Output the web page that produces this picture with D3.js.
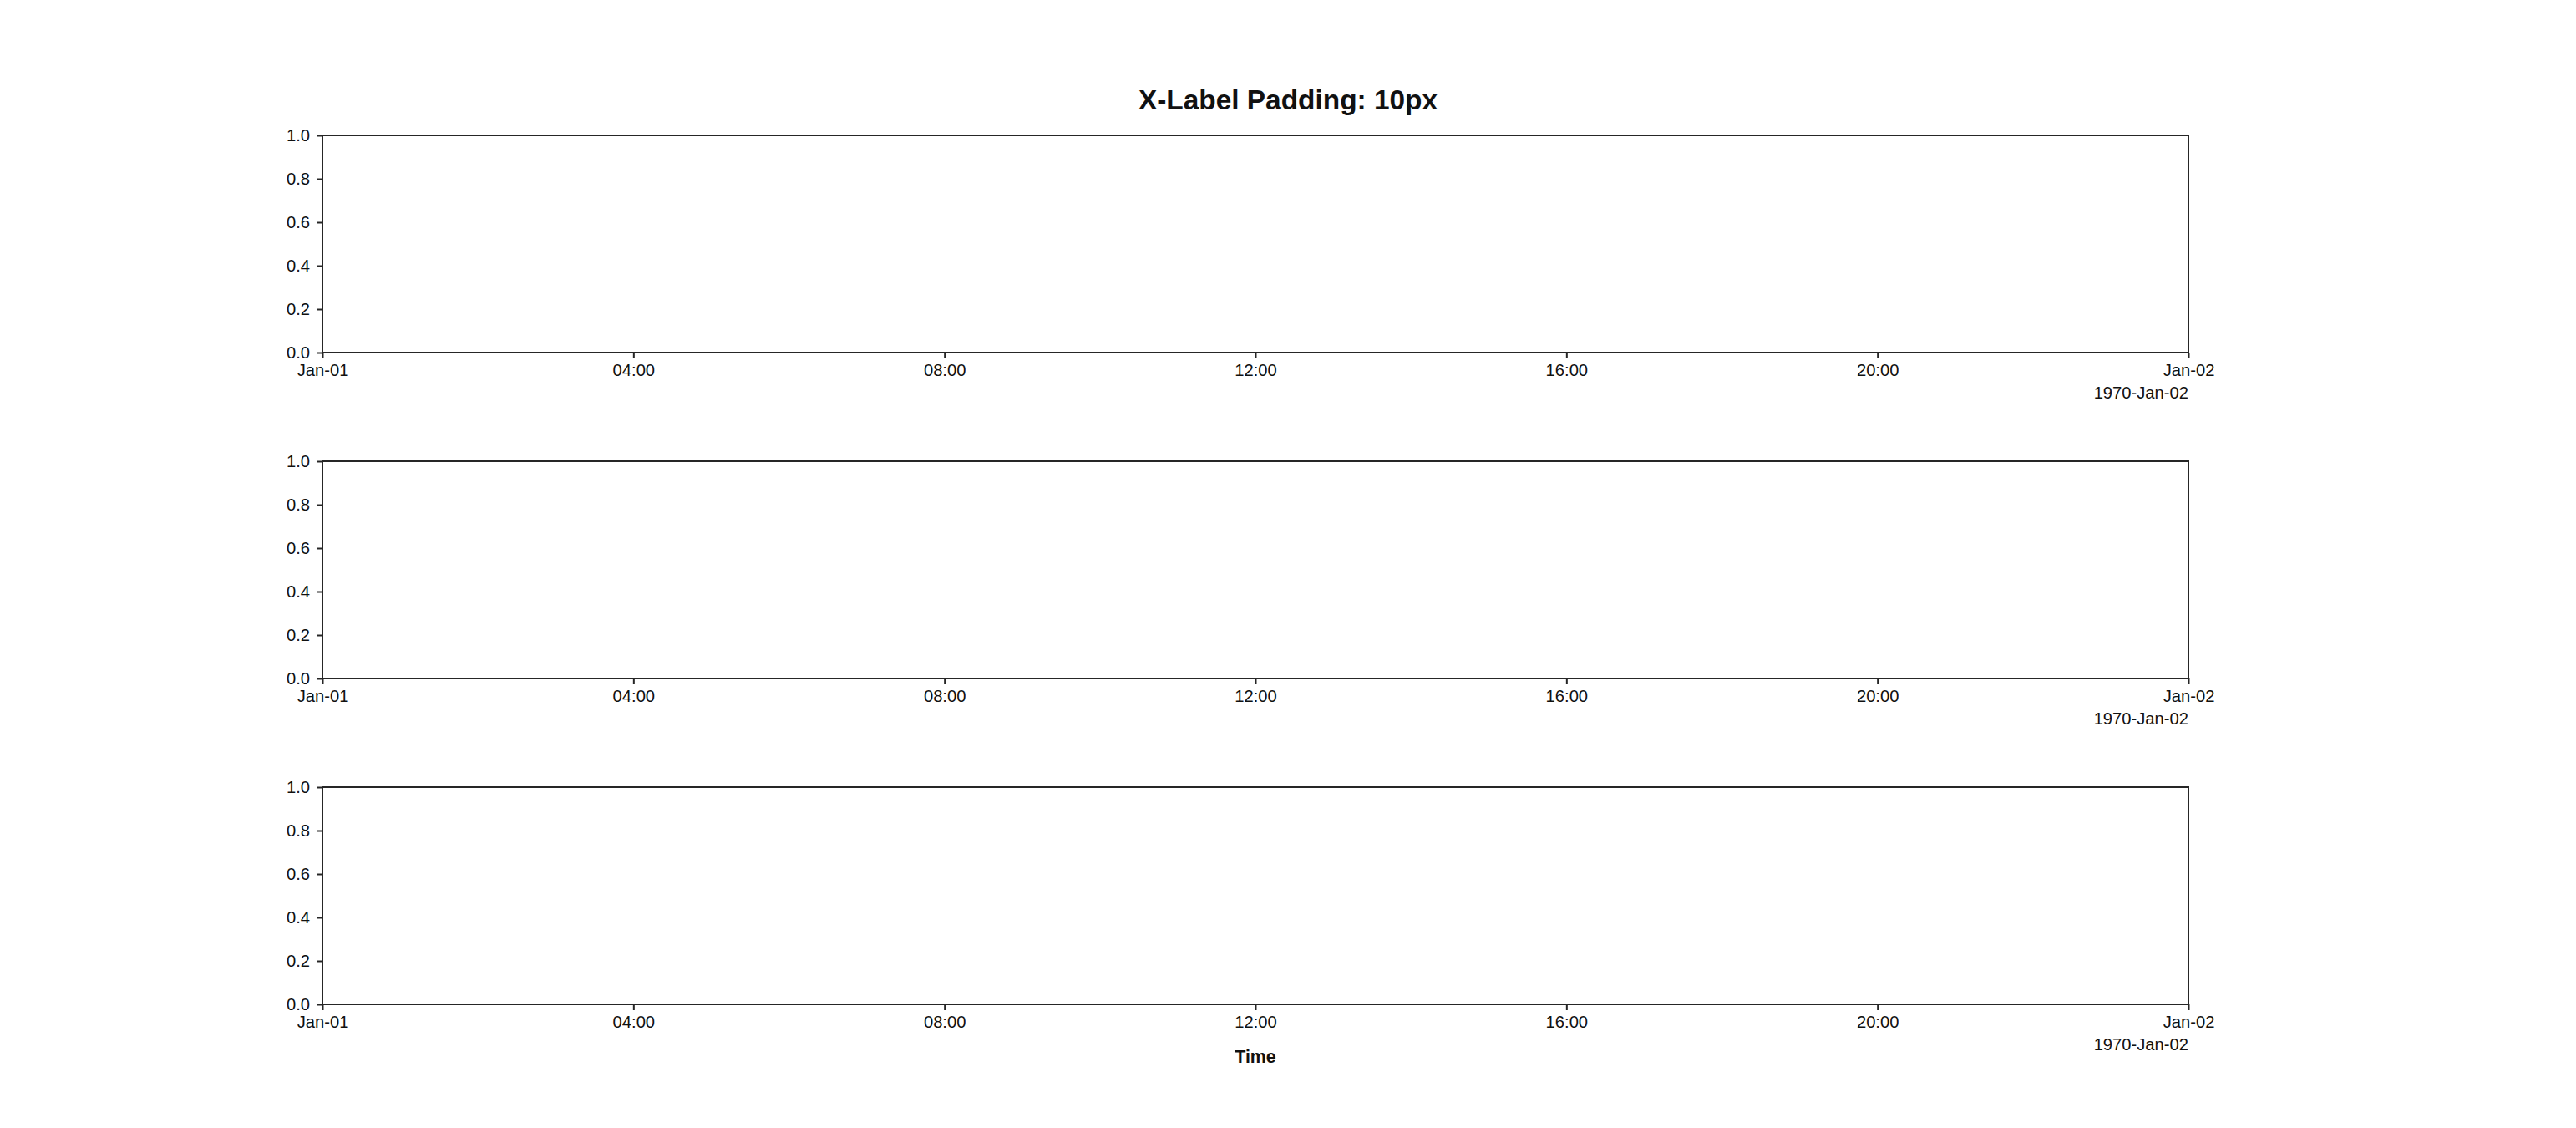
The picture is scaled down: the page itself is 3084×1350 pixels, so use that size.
<!DOCTYPE html>
<html>
<head>
<meta charset="utf-8">
<script src="https://cdn.jsdelivr.net/npm/d3@7"></script>
<style>
  html, body { margin: 0; padding: 0; background: #fff; }
  svg { display: block; }
  text { font-family: "Liberation Sans", Arial, sans-serif; fill: #111; }
</style>
</head>
<body>
<svg id="chart" width="3084" height="1350"></svg>
<script>
// ---- data ----
const titleText = "X-Label Padding: 10px";
const xLabelText = "Time";
const timeDomain = [new Date(Date.UTC(1970, 0, 1, 0, 0)), new Date(Date.UTC(1970, 0, 2, 0, 0))];
const xTickLabels = ["Jan-01", "04:00", "08:00", "12:00", "16:00", "20:00", "Jan-02"];
const yTickValues = [0.0, 0.2, 0.4, 0.6, 0.8, 1.0];
const offsetLabel = "1970-Jan-02";
const panelCount = 3;

// ---- layout ----
const W = 3084, H = 1350;
const left = 386, right = 2620;
const panelTops = [162, 552, 942];
const panelH = 260;
const spineColor = "#262626";
const fontSize = 20.2;

const svg = d3.select("#chart");
svg.append("rect").attr("width", W).attr("height", H).attr("fill", "#fff");

const x = d3.scaleUtc().domain(timeDomain).range([left, right]);
const xTicks = d3.utcHour.every(4).range(timeDomain[0], new Date(+timeDomain[1] + 1));

for (let p = 0; p < panelCount; p++) {
  const top = panelTops[p];
  const y = d3.scaleLinear().domain([0, 1]).range([top + panelH, top]);
  const g = svg.append("g");

  // x axis
  const xAxis = d3.axisBottom(x)
    .tickValues(xTicks)
    .tickSize(7)
    .tickPadding(7)
    .tickFormat((d, i) => xTickLabels[i]);
  const gx = g.append("g").attr("transform", `translate(0,${top + panelH})`).call(xAxis);
  gx.select(".domain").remove();
  gx.selectAll(".tick line").attr("stroke", spineColor).attr("stroke-width", 2);
  gx.selectAll(".tick text").attr("font-size", fontSize).attr("fill", "#111")
    .attr("font-family", '"Liberation Sans", Arial, sans-serif');

  // y axis
  const yAxis = d3.axisLeft(y)
    .tickValues(yTickValues)
    .tickSize(7)
    .tickPadding(8)
    .tickFormat(d3.format(".1f"));
  const gy = g.append("g").attr("transform", `translate(${left},0)`).call(yAxis);
  gy.select(".domain").remove();
  gy.selectAll(".tick line").attr("stroke", spineColor).attr("stroke-width", 2);
  gy.selectAll(".tick text").attr("font-size", fontSize).attr("fill", "#111")
    .attr("font-family", '"Liberation Sans", Arial, sans-serif');

  // spines
  g.append("rect")
    .attr("x", left).attr("y", top)
    .attr("width", right - left).attr("height", panelH)
    .attr("fill", "none").attr("stroke", spineColor).attr("stroke-width", 2);

  // offset label
  g.append("text")
    .attr("x", right).attr("y", top + panelH + 50)
    .attr("text-anchor", "end")
    .attr("dominant-baseline", "middle")
    .attr("font-size", fontSize)
    .text(offsetLabel);

  if (p === panelCount - 1) {
    g.append("text")
      .attr("x", (left + right) / 2).attr("y", top + panelH + 64)
      .attr("text-anchor", "middle")
      .attr("dominant-baseline", "middle")
      .attr("font-size", 21.4)
      .attr("font-weight", "bold")
      .attr("fill", "#000")
      .text(xLabelText);
  }
}

svg.append("text")
  .attr("x", W / 2).attr("y", 122)
  .attr("text-anchor", "middle")
  .attr("dominant-baseline", "middle")
  .attr("font-size", 33.4)
  .attr("font-weight", "bold")
  .attr("fill", "#000")
  .text(titleText);
</script>
</body>
</html>
